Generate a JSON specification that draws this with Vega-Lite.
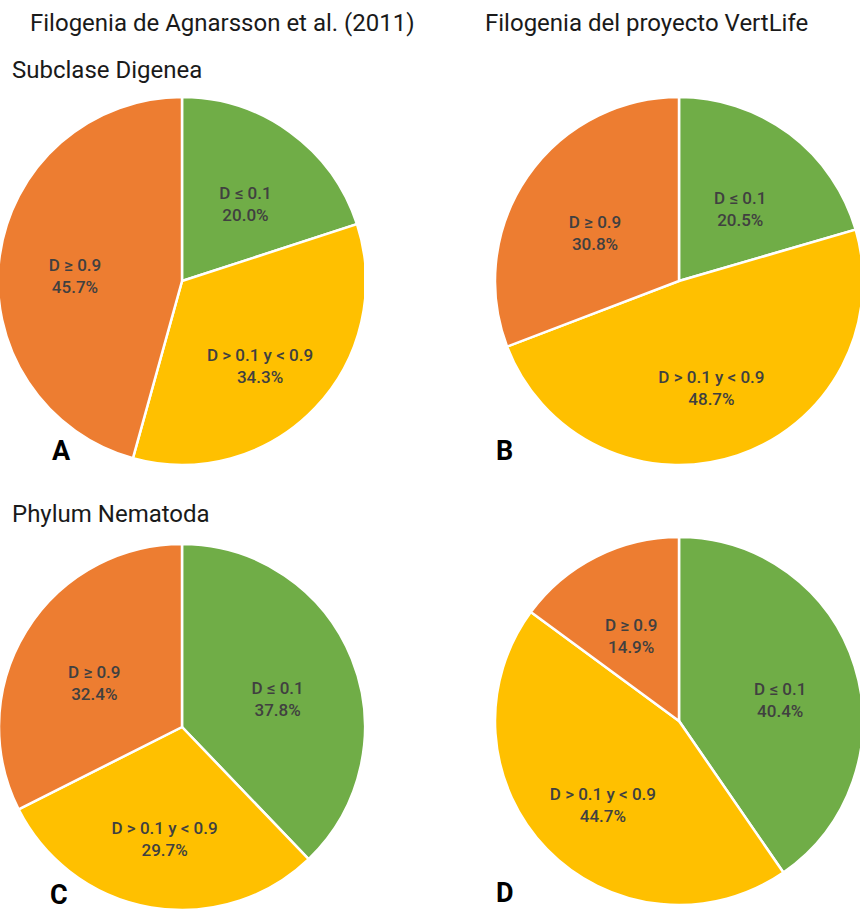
{
  "$schema": "https://vega.github.io/schema/vega-lite/v6.json",
  "padding": {"top": 12, "left": 0, "right": 0, "bottom": 0},
  "background": "#ffffff",
  "config": {
    "view": {"stroke": null},
    "font": "Roboto",
    "title": {"font": "Roboto", "fontWeight": "normal", "color": "#1a1a1a", "fontSize": 24}
  },
  "datasets": {
    "digenea_agnarsson": [
      {"categoria": "D ≤ 0.1", "porcentaje": 20.0, "orden": 1},
      {"categoria": "D > 0.1 y < 0.9", "porcentaje": 34.3, "orden": 2},
      {"categoria": "D ≥ 0.9", "porcentaje": 45.7, "orden": 3}
    ],
    "digenea_vertlife": [
      {"categoria": "D ≤ 0.1", "porcentaje": 20.5, "orden": 1},
      {"categoria": "D > 0.1 y < 0.9", "porcentaje": 48.7, "orden": 2},
      {"categoria": "D ≥ 0.9", "porcentaje": 30.8, "orden": 3}
    ],
    "nematoda_agnarsson": [
      {"categoria": "D ≤ 0.1", "porcentaje": 37.8, "orden": 1},
      {"categoria": "D > 0.1 y < 0.9", "porcentaje": 29.7, "orden": 2},
      {"categoria": "D ≥ 0.9", "porcentaje": 32.4, "orden": 3}
    ],
    "nematoda_vertlife": [
      {"categoria": "D ≤ 0.1", "porcentaje": 40.4, "orden": 1},
      {"categoria": "D > 0.1 y < 0.9", "porcentaje": 44.7, "orden": 2},
      {"categoria": "D ≥ 0.9", "porcentaje": 14.9, "orden": 3}
    ]
  },
  "spacing": 70,
  "hconcat": [
    {
      "title": {"text": "Filogenia de Agnarsson et al. (2011)", "anchor": "start", "dx": 30, "offset": 23},
      "spacing": 37,
      "vconcat": [
        {
          "title": {"text": "Subclase Digenea", "anchor": "start", "dx": 12, "offset": 13},
          "vconcat": [
            {
              "width": 364, "height": 370,
              "data": {"name": "digenea_agnarsson"},
              "title": {"text": "A", "orient": "bottom", "anchor": "start", "dx": 52, "offset": -27, "fontSize": 27, "fontWeight": "bold", "color": "#000000"},
              "transform": [{"calculate": "[datum.categoria, format(datum.porcentaje, '.1f') + '%']", "as": "etiqueta"}],
              "encoding": {
                "theta": {"field": "porcentaje", "type": "quantitative", "stack": true},
                "order": {"field": "orden", "type": "quantitative"}
              },
              "layer": [
                {
                  "mark": {"type": "arc", "outerRadius": 184, "stroke": "#ffffff", "strokeWidth": 2.5, "clip": true},
                  "encoding": {"color": {"field": "categoria", "type": "nominal", "legend": null,
                    "scale": {"domain": ["D ≤ 0.1", "D > 0.1 y < 0.9", "D ≥ 0.9"], "range": ["#70AD47", "#FFC000", "#ED7D31"]}}}
                },
                {
                  "mark": {"type": "text", "radius": 108, "fontSize": 17, "fontWeight": 500, "lineHeight": 22},
                  "encoding": {"text": {"field": "etiqueta", "type": "nominal"}, "detail": {"field": "categoria", "type": "nominal"}, "color": {"value": "#404040"}}
                }
              ]
            }
          ]
        },
        {
          "title": {"text": "Phylum Nematoda", "anchor": "start", "dx": 12, "offset": 17},
          "vconcat": [
            {
              "width": 364, "height": 366,
              "data": {"name": "nematoda_agnarsson"},
              "title": {"text": "C", "orient": "bottom", "anchor": "start", "dx": 50, "offset": -27, "fontSize": 27, "fontWeight": "bold", "color": "#000000"},
              "transform": [{"calculate": "[datum.categoria, format(datum.porcentaje, '.1f') + '%']", "as": "etiqueta"}],
              "encoding": {
                "theta": {"field": "porcentaje", "type": "quantitative", "stack": true},
                "order": {"field": "orden", "type": "quantitative"}
              },
              "layer": [
                {
                  "mark": {"type": "arc", "outerRadius": 183, "stroke": "#ffffff", "strokeWidth": 2.5, "clip": true},
                  "encoding": {"color": {"field": "categoria", "type": "nominal", "legend": null,
                    "scale": {"domain": ["D ≤ 0.1", "D > 0.1 y < 0.9", "D ≥ 0.9"], "range": ["#70AD47", "#FFC000", "#ED7D31"]}}}
                },
                {
                  "mark": {"type": "text", "radius": 103, "fontSize": 17, "fontWeight": 500, "lineHeight": 22},
                  "encoding": {"text": {"field": "etiqueta", "type": "nominal"}, "detail": {"field": "categoria", "type": "nominal"}, "color": {"value": "#404040"}}
                }
              ]
            }
          ]
        }
      ]
    },
    {
      "title": {"text": "Filogenia del proyecto VertLife", "anchor": "start", "dx": -11, "offset": 23},
      "spacing": 37,
      "vconcat": [
        {
          "title": {"text": " ", "anchor": "start", "offset": 13},
          "vconcat": [
            {
              "width": 366, "height": 370,
              "data": {"name": "digenea_vertlife"},
              "title": {"text": "B", "orient": "bottom", "anchor": "start", "dx": 0, "offset": -27, "fontSize": 27, "fontWeight": "bold", "color": "#000000"},
              "transform": [{"calculate": "[datum.categoria, format(datum.porcentaje, '.1f') + '%']", "as": "etiqueta"}],
              "encoding": {
                "theta": {"field": "porcentaje", "type": "quantitative", "stack": true},
                "order": {"field": "orden", "type": "quantitative"}
              },
              "layer": [
                {
                  "mark": {"type": "arc", "outerRadius": 184, "stroke": "#ffffff", "strokeWidth": 2.5, "clip": true},
                  "encoding": {"color": {"field": "categoria", "type": "nominal", "legend": null,
                    "scale": {"domain": ["D ≤ 0.1", "D > 0.1 y < 0.9", "D ≥ 0.9"], "range": ["#70AD47", "#FFC000", "#ED7D31"]}}}
                },
                {
                  "mark": {"type": "text", "radius": 102, "fontSize": 17, "fontWeight": 500, "lineHeight": 22},
                  "encoding": {"text": {"field": "etiqueta", "type": "nominal"}, "detail": {"field": "categoria", "type": "nominal"}, "color": {"value": "#404040"}}
                }
              ]
            }
          ]
        },
        {
          "title": {"text": " ", "anchor": "start", "offset": 7},
          "vconcat": [
            {
              "width": 366, "height": 374,
              "data": {"name": "nematoda_vertlife"},
              "title": {"text": "D", "orient": "bottom", "anchor": "start", "dx": 0, "offset": -27, "fontSize": 27, "fontWeight": "bold", "color": "#000000"},
              "transform": [{"calculate": "[datum.categoria, format(datum.porcentaje, '.1f') + '%']", "as": "etiqueta"}],
              "encoding": {
                "theta": {"field": "porcentaje", "type": "quantitative", "stack": true},
                "order": {"field": "orden", "type": "quantitative"}
              },
              "layer": [
                {
                  "mark": {"type": "arc", "outerRadius": 184, "stroke": "#ffffff", "strokeWidth": 2.5, "clip": true},
                  "encoding": {"color": {"field": "categoria", "type": "nominal", "legend": null,
                    "scale": {"domain": ["D ≤ 0.1", "D > 0.1 y < 0.9", "D ≥ 0.9"], "range": ["#70AD47", "#FFC000", "#ED7D31"]}}}
                },
                {
                  "mark": {"type": "text", "radius": 106, "fontSize": 17, "fontWeight": 500, "lineHeight": 22},
                  "encoding": {"text": {"field": "etiqueta", "type": "nominal"}, "detail": {"field": "categoria", "type": "nominal"}, "color": {"value": "#404040"}}
                }
              ]
            }
          ]
        }
      ]
    }
  ]
}
